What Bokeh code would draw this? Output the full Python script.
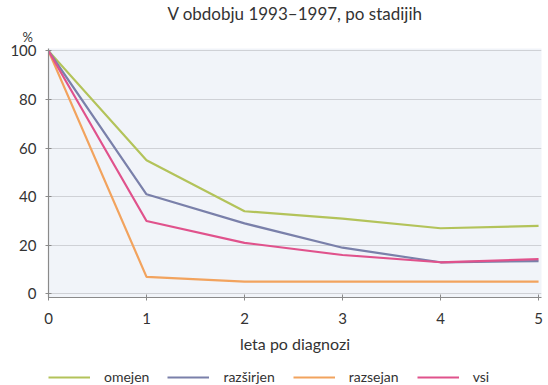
from bokeh.plotting import figure
from bokeh.models import Legend, LegendItem, Title, Range1d, FixedTicker
from bokeh.layouts import column
from bokeh.embed import file_html
from bokeh.resources import INLINE

years = [0, 1, 2, 3, 4, 5]
omejen = [100, 55, 34, 31, 27, 28]
razsirjen = [100, 41, 29, 19, 13, 13.5]
razsejan = [100, 7, 5, 5, 5, 5]
vsi = [100, 30, 21, 16, 13, 14.3]
series_names = ["omejen", "razširjen", "razsejan", "vsi"]
colors = ["#b3c35a", "#7a80aa", "#f2a35e", "#e0528c"]
y_ticks = [0, 20, 40, 60, 80, 100]
title_text = "V obdobju 1993–1997, po stadijih"
unit_text = "%"
x_label = "leta po diagnozi"

FONT = "Lato"

p = figure(width=548, height=363, output_backend="svg", toolbar_location=None,
           x_range=Range1d(0, 5.03), y_range=Range1d(-1.5, 101),
           min_border_left=48, min_border_right=7, min_border_top=0,
           min_border_bottom=66)

p.title.text = title_text
p.title.align = "center"
p.title.text_font = FONT
p.title.text_font_size = "17px"
p.title.text_font_style = "normal"
p.title.text_color = "#333333"
p.title.standoff = 0

unit_title = Title(text=unit_text, align="left", offset=-26, text_font=FONT,
                   text_font_size="13px", text_font_style="normal",
                   text_color="#333333", standoff=7)
p.add_layout(unit_title, "above")

p.background_fill_color = "#f1f4f9"
p.border_fill_color = "white"
p.outline_line_color = None

p.xgrid.grid_line_color = None
p.ygrid.grid_line_color = "#cfd1d6"
p.ygrid.grid_line_width = 1.2
p.ygrid.ticker = FixedTicker(ticks=y_ticks)

p.yaxis.ticker = FixedTicker(ticks=y_ticks)
p.xaxis.ticker = FixedTicker(ticks=years)
for ax in (p.xaxis[0], p.yaxis[0]):
    ax.axis_line_color = "#8a8a8a"
    ax.axis_line_width = 1.2
    ax.major_tick_line_color = "#8a8a8a"
    ax.major_tick_in = 3
    ax.major_tick_out = 3
    ax.minor_tick_line_color = None
    ax.major_label_text_font = FONT
    ax.major_label_text_font_size = "15px"
    ax.major_label_text_color = "#333333"
p.yaxis.major_label_standoff = 9
p.xaxis.major_label_standoff = 12
p.xaxis.axis_label = x_label
p.xaxis.axis_label_text_font = FONT
p.xaxis.axis_label_text_font_size = "16px"
p.xaxis.axis_label_text_font_style = "normal"
p.xaxis.axis_label_text_color = "#333333"
p.xaxis.axis_label_standoff = 7

all_series = [omejen, razsirjen, razsejan, vsi]
for data, c in zip(all_series, colors):
    p.line(years, data, line_color=c, line_width=2.2)

# legend strip below the chart (its lines lie outside the strip's visible range)
lg = figure(width=548, height=22, output_backend="svg", toolbar_location=None,
            x_range=Range1d(100, 101), y_range=Range1d(1000, 1001),
            x_axis_location=None, y_axis_location=None,
            min_border=0, min_border_left=0, min_border_right=0,
            min_border_top=0, min_border_bottom=0)
lg.outline_line_color = None
lg.grid.visible = False
lg.background_fill_color = "white"
items = []
for name, data, c in zip(series_names, all_series, colors):
    r = lg.line(years, data, line_color=c, line_width=2.2)
    items.append(LegendItem(label=name, renderers=[r]))
legend = Legend(items=items, orientation="horizontal", location=(0, 0),
                glyph_width=42, glyph_height=14, label_standoff=14, spacing=18,
                label_text_font=FONT, label_text_font_size="14px",
                label_text_color="#333333", border_line_color=None,
                background_fill_alpha=0, padding=0, margin=0)
lg.add_layout(legend)

layout = column(p, lg, spacing=0)
open("out.html", "w").write(file_html(layout, INLINE))
